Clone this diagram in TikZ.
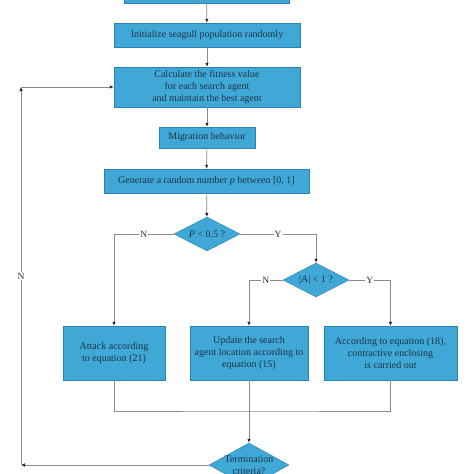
\documentclass[tikz,border=0pt]{standalone}
\usepackage{fontspec}
\setmainfont{Liberation Serif}
\usetikzlibrary{shapes.geometric,arrows.meta}
\definecolor{boxblue}{HTML}{3FA8D6}
\definecolor{boxedge}{HTML}{2C80B0}
\definecolor{boxtext}{HTML}{1E3447}
\definecolor{linegray}{HTML}{8A8A8A}
\begin{document}
\begin{tikzpicture}[x=1pt,y=-1pt,
  box/.style={draw=boxedge,fill=boxblue,text=boxtext,font=\fontsize{10}{12.3}\selectfont,align=center,inner sep=0pt},
  dec/.style={box,shape=diamond,aspect=2},
  line/.style={draw=linegray,line width=0.7pt},
  arr/.style={line,-{Latex[length=4pt,width=3.5pt,color=black!85]}},
  lbl/.style={fill=white,inner sep=1pt,text=boxtext,font=\fontsize{9.5}{11}\selectfont}]
\clip (0,0) rectangle (474,474);
\fill[white] (0,0) rectangle (474,474);
\node[box,minimum width=165pt,minimum height=26pt] (start) at (206.5,-10) {};
\node[box,minimum width=186pt,minimum height=24pt] (init) at (207,35) {Initialize seagull population randomly};
\node[box,minimum width=186pt,minimum height=40pt] (calc) at (207,87) {Calculate the fitness value\\for each search agent\\and maintain the best agent};
\node[box,minimum width=96pt,minimum height=21pt] (migr) at (207,137.5) {Migration behavior};
\node[box,minimum width=205pt,minimum height=24pt] (rand) at (206.5,181) {Generate a random number \textit{p} between [0, 1]};
\node[dec,minimum width=66pt,minimum height=34pt] (testp) at (207,234) {\textit{P} < 0.5 ?};
\node[dec,minimum width=66pt,minimum height=34pt] (testa) at (316,280) {|A| < 1 ?};
\node[box,minimum width=102pt,minimum height=54pt] (attack) at (114,353) {Attack according\\to equation (21)};
\node[box,minimum width=118pt,minimum height=54pt] (update) at (249,353) {Update the search\\agent location according to\\equation (15)};
\node[box,minimum width=133pt,minimum height=54pt] (encl) at (390.5,353) {According to equation (18),\\contractive enclosing\\is carried out};
\node[dec,minimum width=80pt,minimum height=44pt] (term) at (249,465) {\makebox[0pt]{Termination}\\\makebox[0pt]{criteria?}};
\coordinate (merge) at (249,411);
\coordinate (lowcorner) at (21,465);
\coordinate (upcorner) at (21,87);

\draw[arr] (start) -- (init);
\draw[arr] (init) -- (calc);
\draw[arr] (calc) -- (migr);
\draw[arr] (migr) -- (rand);
\draw[arr] (rand) -- (testp);
\draw[arr] (testp.west) -- node[lbl]{N} (testp.west -| attack) -- (attack);
\draw[arr] (testp.east) -- node[lbl]{Y} (testp.east -| testa) -- (testa);
\draw[arr] (testa.west) -- node[lbl]{N} (testa.west -| update) -- (update);
\draw[arr] (testa.east) -- node[lbl]{Y} (testa.east -| encl) -- (encl);
\draw[line] (attack.south) |- (merge) -| (encl.south);
\draw[arr] (update) -- (term);
\draw[arr] (term.west) -- (lowcorner);
\draw[arr] (lowcorner) -- node[lbl]{N} (upcorner);
\draw[arr] (upcorner) -- (calc.west);
\end{tikzpicture}
\end{document}
